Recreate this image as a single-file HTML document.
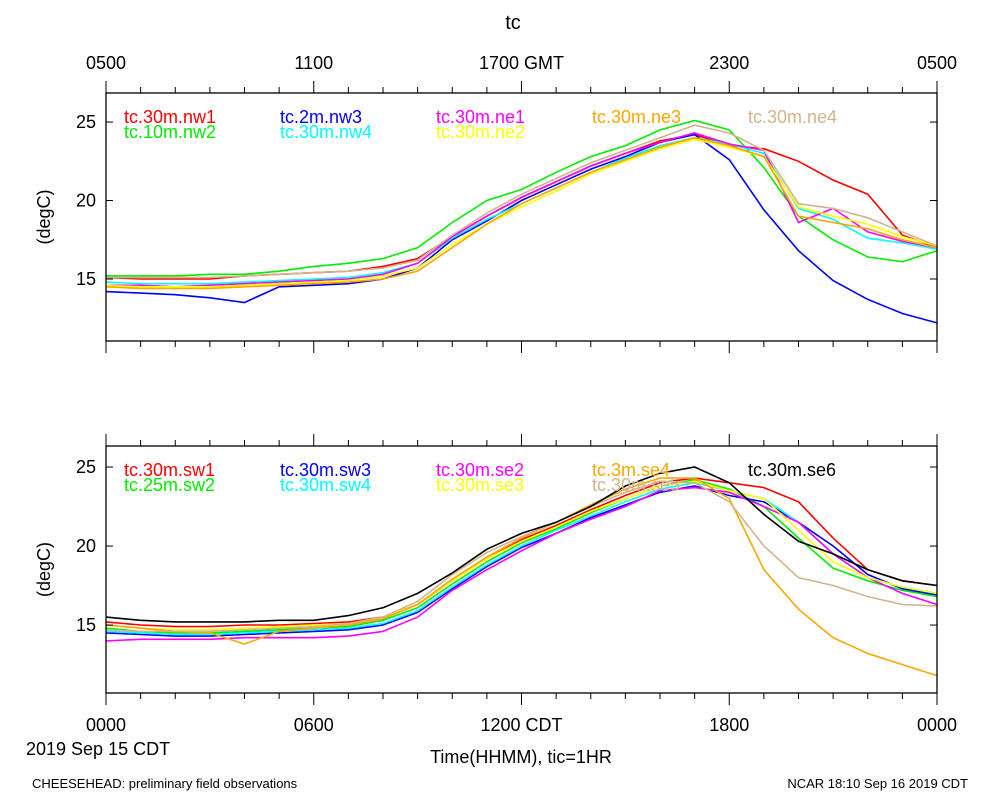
<!DOCTYPE html>
<html><head><meta charset="utf-8"><style>
body{margin:0;background:#fff}
svg{display:block;font-family:"Liberation Sans",sans-serif}
</style></head><body>
<svg id="chart" width="1000" height="800" xmlns="http://www.w3.org/2000/svg">
<text x="513" y="29" font-size="20" text-anchor="middle">tc</text>
<g id="top"></g>
<g id="bot"></g>
<text x="26" y="755" font-size="18">2019 Sep 15 CDT</text>
<text x="521" y="763" font-size="18" text-anchor="middle">Time(HHMM), tic=1HR</text>
<text x="32" y="788" font-size="13">CHEESEHEAD: preliminary field observations</text>
<text x="968" y="788" font-size="13" text-anchor="end">NCAR 18:10 Sep 16 2019 CDT</text>
</svg>
<script>
const hours=[0,1,2,3,4,5,6,7,8,9,10,11,12,13,14,15,16,17,18,19,20,21,22,23,24];
const topTicksLabels=["0500","1100","1700 GMT","2300","0500"];
const botTicksLabels=["0000","0600","1200 CDT","1800","0000"];
const yTicks=[15,20,25];
const topNames=["tc.30m.nw1","tc.10m.nw2","tc.2m.nw3","tc.30m.nw4","tc.30m.ne1","tc.30m.ne2","tc.30m.ne3","tc.30m.ne4"];
const topColors=["#ff0000","#00ee00","#0000ff","#00ffff","#ff00ff","#ffff00","#ffa500","#d2b48c"];
const topLegCol=[0,0,1,1,2,2,3,4];
const topLegRow=[0,1,0,1,0,1,0,0];
const nw1=[15.1,15.0,15.0,15.0,15.2,15.3,15.4,15.5,15.8,16.3,17.7,19.0,20.2,21.2,22.2,23.0,23.8,24.2,23.5,23.3,22.5,21.3,20.4,17.8,17.0];
const nw2=[15.2,15.2,15.2,15.3,15.3,15.5,15.8,16.0,16.3,17.0,18.6,20.0,20.7,21.8,22.8,23.5,24.5,25.1,24.5,22.1,19.0,17.5,16.4,16.1,16.8];
const nw3=[14.2,14.1,14.0,13.8,13.5,14.5,14.6,14.7,15.0,15.7,17.5,18.7,20.0,21.0,22.0,22.8,23.7,24.2,22.6,19.4,16.8,14.9,13.7,12.8,12.2];
const nw4=[14.8,14.7,14.7,14.7,14.8,14.9,15.0,15.1,15.4,16.0,17.6,18.8,19.8,20.8,21.8,22.7,23.5,24.0,23.6,23.0,19.5,18.8,17.6,17.3,16.9];
const ne1=[14.6,14.6,14.5,14.6,14.7,14.8,14.9,15.0,15.3,16.0,17.7,19.0,20.2,21.2,22.2,23.0,23.7,24.3,23.6,23.2,18.6,19.5,18.0,17.4,17.0];
const ne2=[14.6,14.5,14.5,14.5,14.6,14.7,14.8,14.9,15.2,15.7,17.2,18.5,19.6,20.6,21.7,22.5,23.3,23.9,23.4,22.8,19.6,19.0,18.5,17.7,17.1];
const ne3=[14.5,14.4,14.4,14.4,14.5,14.6,14.7,14.8,15.0,15.5,17.0,18.5,19.8,20.8,21.8,22.6,23.4,24.0,23.5,22.8,19.0,18.6,18.2,17.5,17.0];
const ne4=[15.1,15.1,15.1,15.1,15.2,15.3,15.4,15.5,15.7,16.2,17.8,19.2,20.4,21.4,22.4,23.2,24.0,24.8,24.3,23.2,19.8,19.5,18.9,18.0,17.1];
const topSeries=[nw1,nw2,nw3,nw4,ne1,ne2,ne3,ne4];
const botNames=["tc.30m.sw1","tc.25m.sw2","tc.30m.sw3","tc.30m.sw4","tc.30m.se2","tc.30m.se3","tc.3m.se4","tc.30m.se5","tc.30m.se6"];
const botColors=["#ff0000","#00ee00","#0000ff","#00ffff","#ff00ff","#ffff00","#ffa500","#d2b48c","#000000"];
const botLegCol=[0,0,1,1,2,2,3,3,4];
const botLegRow=[0,1,0,1,0,1,0,1,0];
const sw1=[15.2,15.0,14.9,14.9,15.0,15.0,15.1,15.2,15.5,16.3,17.8,19.3,20.4,21.3,22.3,23.2,24.0,24.3,24.0,23.7,22.8,20.5,18.5,17.8,17.5];
const sw2=[14.8,14.6,14.5,14.5,14.6,14.7,14.8,14.9,15.3,16.1,17.6,19.0,20.2,21.1,22.1,23.0,23.8,24.2,23.6,22.5,20.5,18.6,17.8,17.2,16.8];
const sw3=[14.5,14.4,14.3,14.3,14.4,14.5,14.6,14.7,15.0,15.8,17.3,18.7,19.9,20.8,21.8,22.6,23.4,23.8,23.2,22.8,21.5,20.0,18.2,17.3,16.9];
const sw4=[14.6,14.5,14.4,14.4,14.5,14.6,14.7,14.8,15.1,15.9,17.4,18.8,20.0,21.0,21.9,22.8,23.6,24.0,23.5,23.0,21.5,19.5,18.0,17.4,17.0];
const se2=[14.0,14.1,14.1,14.1,14.2,14.2,14.2,14.3,14.6,15.5,17.2,18.5,19.7,20.8,21.7,22.5,23.5,23.7,23.4,22.5,21.5,19.5,18.0,17.0,16.3];
const se3=[15.0,14.8,14.7,14.7,14.8,14.9,15.0,15.1,15.5,16.3,17.8,19.2,20.3,21.2,22.2,23.0,23.8,24.1,23.5,23.0,21.0,19.0,18.0,17.4,17.0];
const se4=[15.0,14.8,14.6,14.5,13.8,14.6,14.8,15.0,15.4,16.3,17.9,19.3,20.5,21.5,22.6,23.6,24.3,24.3,23.0,18.5,16.0,14.2,13.2,12.5,11.8];
const se5=[14.7,14.6,14.6,14.6,14.7,14.8,14.9,15.1,15.5,16.5,18.2,19.6,20.6,21.5,22.5,23.4,24.1,24.0,22.8,20.0,18.0,17.5,16.8,16.3,16.2];
const se6=[15.5,15.3,15.2,15.2,15.2,15.3,15.3,15.6,16.1,17.0,18.3,19.8,20.8,21.5,22.5,23.8,24.6,25.0,24.0,22.0,20.3,19.5,18.5,17.8,17.5];
const botSeries=[sw1,sw2,sw3,sw4,se2,se3,se4,se5,se6];

const NS="http://www.w3.org/2000/svg";
const X0=106,X1=937;
function xs(h){return X0+(X1-X0)*h/24;}
function mk(tag,attrs,parent){const e=document.createElementNS(NS,tag);for(const k in attrs)e.setAttribute(k,attrs[k]);parent.appendChild(e);return e;}
function panel(g,top,bottom,vTop,vBot,series,colors,names,legCol,legRow,tickLabels,lblY){
  const ys=v=>top+(vTop-v)/(vTop-vBot)*(bottom-top);
  series.forEach((s,i)=>{
    const pl=mk("polyline",{points:s.map((v,j)=>xs(hours[j]).toFixed(1)+","+ys(v).toFixed(1)).join(" "),fill:"none",stroke:colors[i],"stroke-width":1.6},g);
    
    
  });
  const fr=mk("rect",{x:X0,y:top,width:X1-X0,height:bottom-top,fill:"none",stroke:"#000","stroke-width":1.3},g);
  
  
  for(let h=0;h<=24;h++){
    const len=h%6===0?12:6;
    const x=xs(h);
    const ty=mk("line",{x1:x,x2:x,y1:top,y2:top-len,stroke:"#000","stroke-width":1},g);
    
    
    const tb=mk("line",{x1:x,x2:x,y1:bottom,y2:bottom+len,stroke:"#000","stroke-width":1},g);
    
    
  }
  tickLabels.forEach((t,i)=>{
    const tx=mk("text",{x:xs(i*6),y:lblY,"font-size":18,"text-anchor":"middle"},g);
    tx.textContent=t;
    
    
  });
  yTicks.forEach(v=>{
    const y=ys(v);
    const a=mk("line",{x1:X0,x2:X0+7,y1:y,y2:y,stroke:"#000"},g);
    
    
    const b=mk("line",{x1:X1,x2:X1-7,y1:y,y2:y,stroke:"#000"},g);
    
    
    const t=mk("text",{x:96,y:y+6,"font-size":18,"text-anchor":"end"},g);
    t.textContent=v;
    
    
  });
  const yt=mk("text",{x:0,y:0,"font-size":18,"text-anchor":"middle",transform:"translate(50,"+((top+bottom)/2)+") rotate(-90)"},g);
  yt.textContent="(degC)";
  
  
  names.forEach((n,i)=>{
    const t=mk("text",{x:124+156*legCol[i],y:top+30+legRow[i]*15,"font-size":18,fill:colors[i]},g);
    t.textContent=n;
    
    
  });
}
panel(document.getElementById("top"),93,341,26.85,11.05,topSeries,topColors,topNames,topLegCol,topLegRow,topTicksLabels,69);
panel(document.getElementById("bot"),446,693,26.33,10.7,botSeries,botColors,botNames,botLegCol,botLegRow,botTicksLabels,731);
</script>
</body></html>
